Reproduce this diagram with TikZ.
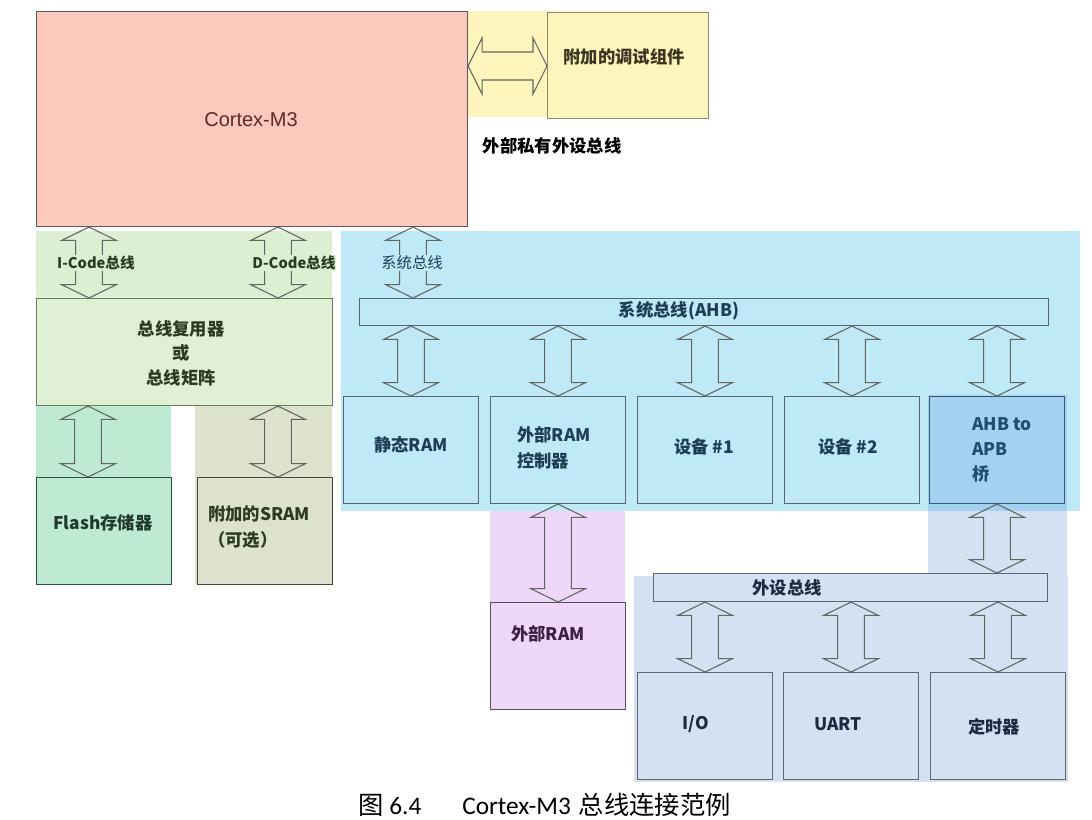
\documentclass[tikz,border=0pt]{standalone}
\usepackage{fontspec}
\setmainfont{Noto Sans CJK SC}
\newfontfamily\arialf{Liberation Sans}
\newfontfamily\calf{Carlito}
\newfontfamily\cjkf{Noto Sans CJK SC}
\usetikzlibrary{calc}
\definecolor{yellowbg}{HTML}{FEF5BD}
\definecolor{greenbg}{HTML}{DDEFD3}
\definecolor{muxfill}{HTML}{E0F0D5}
\definecolor{mintbg}{HTML}{BEEAD3}
\definecolor{olivebg}{HTML}{DCE2CB}
\definecolor{bluebg}{HTML}{C0E9F8}
\definecolor{pinkbg}{HTML}{EFD7FA}
\definecolor{apbbg}{HTML}{D5E1F2}
\definecolor{ahbfill}{HTML}{A5D1F0}
\definecolor{cmfill}{HTML}{FDC9BC}
\definecolor{cmline}{HTML}{5A5A5A}
\definecolor{cmtext}{HTML}{5A2A2A}
\definecolor{dbgline}{HTML}{8A8A70}
\definecolor{grline}{HTML}{6A7A60}
\definecolor{flline}{HTML}{2F4F3F}
\definecolor{srline}{HTML}{3F4A35}
\definecolor{blline}{HTML}{56666E}
\definecolor{brline}{HTML}{3A5A70}
\definecolor{pkline}{HTML}{5A4A5F}
\definecolor{apline}{HTML}{5E6470}
\definecolor{arrowgray}{HTML}{5F6660}
\definecolor{grtext}{HTML}{2B3A22}
\definecolor{fltext}{HTML}{1F3A2A}
\definecolor{bltext}{HTML}{1C3D55}
\definecolor{brtext}{HTML}{1F4E6B}
\definecolor{pktext}{HTML}{3C1F45}
\definecolor{aptext}{HTML}{1C2A40}
\definecolor{dbgtext}{HTML}{3A3520}
\newcommand\lbf{\fontsize{13pt}{18pt}\selectfont\bfseries}
\newcommand\bx[6][]{\node[box,#1,minimum width={(#4-#2)*0.75pt},minimum height={(#5-#3)*0.75pt}] (#6) at (#2,#3) {};}
\newcommand\varr[2]{\draw[barrow] let \p1=(#1), \p2=(#2) in
  (\x1,\y1) -- (\x1+20.5pt,\y1-10pt) -- (\x1+10pt,\y1-10pt) -- (\x1+10pt,\y2+10pt) -- (\x1+20.5pt,\y2+10pt)
  -- (\x1,\y2) -- (\x1-20.5pt,\y2+10pt) -- (\x1-10pt,\y2+10pt) -- (\x1-10pt,\y1-10pt) -- (\x1-20.5pt,\y1-10pt) -- cycle;}
\newcommand\harr[2]{\draw[barrow] let \p1=(#1), \p2=(#2) in
  (\x1,\y1) -- (\x1+10.5pt,\y1+21pt) -- (\x1+10.5pt,\y1+10.5pt) -- (\x2-10.5pt,\y1+10.5pt) -- (\x2-10.5pt,\y1+21pt)
  -- (\x2,\y1) -- (\x2-10.5pt,\y1-21pt) -- (\x2-10.5pt,\y1-10.5pt) -- (\x1+10.5pt,\y1-10.5pt) -- (\x1+10.5pt,\y1-21pt) -- cycle;}
\begin{document}
\begin{tikzpicture}[x=0.75pt,y=-0.75pt,
  box/.style={anchor=north west,inner sep=0pt,line width=0.8pt},
  barrow/.style={draw=arrowgray,line width=0.8pt,line join=miter},
  lbl/.style={font=\lbf,align=center,inner sep=0pt},
  smalllbl/.style={font=\fontsize{11pt}{13pt}\selectfont\bfseries,inner xsep=0pt,inner ysep=1pt},
  capt/.style={font=\fontsize{19pt}{22pt}\selectfont,anchor=west,inner sep=0pt}]
\useasboundingbox (0,0) rectangle (1092,820);
\fill[white] (0,0) rectangle (1092,820);
% background regions
\fill[yellowbg] (467,11) rectangle (708,117);
\fill[greenbg] (36,231) rectangle (332,298);
\fill[mintbg] (36,405) rectangle (171,584);
\fill[olivebg] (195,405) rectangle (332,584);
\fill[bluebg] (341,231) rectangle (1080,511);
\fill[pinkbg] (490,511) rectangle (625,709);
\fill[apbbg] (928,511) rectangle (1067,576);
\fill[apbbg] (634,576) rectangle (1068,782);
\fill[ahbfill] (928,395) rectangle (1067,511);
% boxes
\bx[draw=cmline,fill=cmfill]{36}{11}{467}{226}{cm3}
\bx[draw=dbgline,fill=yellowbg]{547}{12}{708}{118}{dbg}
\bx[draw=grline,fill=muxfill]{36}{298}{332}{405}{mux}
\bx[draw=flline,fill=mintbg]{36}{477}{171}{584}{flash}
\bx[draw=srline,fill=olivebg]{197}{477}{332}{584}{sram}
\bx[draw=blline,fill=bluebg]{359}{298}{1048}{325}{ahb}
\bx[draw=blline,fill=bluebg]{343}{396}{478}{503}{sram2}
\bx[draw=blline,fill=bluebg]{490}{396}{625}{503}{emc}
\bx[draw=blline,fill=bluebg]{637}{396}{772}{503}{dev1}
\bx[draw=blline,fill=bluebg]{784}{396}{919}{503}{dev2}
\bx[draw=brline,fill=ahbfill]{929}{396}{1064}{503}{bridge}
\bx[draw=pkline,fill=pinkbg]{490}{602}{625}{709}{eram}
\bx[draw=apline,fill=apbbg]{653}{573}{1047}{601}{apb}
\bx[draw=apline,fill=apbbg]{637}{672}{772}{779}{io}
\bx[draw=apline,fill=apbbg]{783}{672}{918}{779}{uart}
\bx[draw=apline,fill=apbbg]{930}{672}{1065}{779}{timer}
% arrows
\harr{cm3.east |- 0,66}{dbg.west |- 0,66}
\varr{89,0 |- cm3.south}{89,0 |- mux.north}
\varr{278,0 |- cm3.south}{278,0 |- mux.north}
\varr{413,0 |- cm3.south}{413,0 |- ahb.north}
\varr{88,0 |- mux.south}{88,0 |- flash.north}
\varr{278,0 |- mux.south}{278,0 |- sram.north}
\foreach \b in {sram2,emc,dev1,dev2,bridge}{\varr{ahb.south -| \b.north}{\b.north}}
\varr{emc.south}{eram.north}
\varr{bridge.south}{bridge.south |- apb.north}
\foreach \b in {io,uart,timer}{\varr{apb.south -| \b.north}{\b.north}}
% texts
\node[font=\arialf\fontsize{15pt}{18pt}\selectfont,text=cmtext] (tcm3) at (251,120) {Cortex-M3};
\node[lbl,text=dbgtext] (tdbg) at (624,57) {附加的调试组件};
\node[lbl,text=black] (tppb) at (552,146) {外部私有外设总线};
\node[smalllbl,fill=greenbg,text=grtext] (ticode) at (96,263) {I-Code总线};
\node[smalllbl,fill=greenbg,text=grtext] (tdcode) at (294,263) {D-Code总线};
\node[font=\fontsize{11.5pt}{13pt}\selectfont,fill=bluebg,text=bltext,inner xsep=0pt,inner ysep=1pt] (tsys) at (412,263) {系统总线};
\node[lbl,text=grtext,font=\fontsize{13pt}{18.4pt}\selectfont\bfseries] (tmux) at (181,353) {总线复用器\\或\\总线矩阵};
\node[lbl,text=fltext] (tflash) at (103,523) {Flash存储器};
\node[lbl,text=grtext,align=left,anchor=west,font=\fontsize{13pt}{19.5pt}\selectfont\bfseries] (tsram) at (208,527) {附加的SRAM\\（可选）};
\node[lbl,text=bltext] (tahb) at (679,311) {系统总线(AHB)};
\node[lbl,text=bltext] (tsram2) at (411,445) {静态RAM};
\node[lbl,text=bltext,align=left,anchor=west,font=\fontsize{13pt}{19.5pt}\selectfont\bfseries] (temc) at (517,448) {外部RAM\\控制器};
\node[lbl,text=bltext] (tdev1) at (704,447) {设备 \#1};
\node[lbl,text=bltext] (tdev2) at (848,447) {设备 \#2};
\node[lbl,text=brtext,align=left,anchor=west,font=\fontsize{13pt}{18.75pt}\selectfont\bfseries] (tbridge) at (972,450) {AHB to\\APB\\桥};
\node[lbl,text=pktext] (teram) at (548,634) {外部RAM};
\node[lbl,text=aptext] (tapb) at (787,588) {外设总线};
\node[lbl,text=aptext] (tio) at (696,724) {I/O};
\node[lbl,text=aptext] (tuart) at (838,724) {UART};
\node[lbl,text=aptext] (ttimer) at (994,727) {定时器};
% caption
\node[capt] (cap1) at (358,805) {\cjkf 图 \calf 6.4};
\node[capt] (cap2) at (462,805) {\calf Cortex-M3\hspace{6pt}\cjkf 总线连接范例};
\end{tikzpicture}
\end{document}
